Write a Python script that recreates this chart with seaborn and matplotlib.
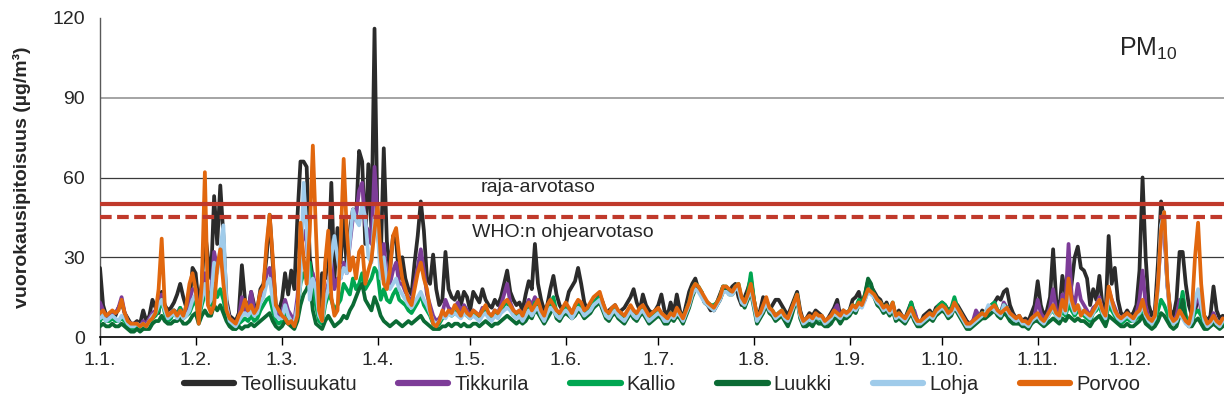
"""
plot.py
-------
PM10 daily means 2023 for six stations, redrawn with seaborn.
"""

import numpy as np
import pandas as pd
import matplotlib
matplotlib.use("Agg")
import matplotlib.pyplot as plt
import matplotlib.dates as mdates
from matplotlib.ticker import FuncFormatter
import seaborn as sns

# ─── Data (µg/m³, one value per day, one row per month) ──────────────────────
STATIONS = ["Teollisuukatu", "Tikkurila", "Kallio", "Luukki", "Lohja", "Porvoo"]
COLORS   = ["#2b2b2b", "#7d3c98", "#00a651", "#0b6b34", "#9fcbea", "#e1670e"]

TEOLLISUUKATU = [
    26, 12, 8, 7, 9, 8, 11, 13, 9, 7, 5, 5, 6, 5, 10, 6, 8, 14, 11, 9, 17, 12, 10, 11, 13, 16, 20, 15, 11, 13, 26,
    24, 12, 20, 40, 30, 22, 53, 35, 57, 38, 14, 8, 7, 6, 9, 27, 14, 10, 17, 12, 10, 18, 20, 30, 46, 28, 12, 10,
    14, 24, 16, 25, 18, 45, 66, 66, 64, 30, 22, 14, 10, 24, 22, 26, 58, 22, 41, 28, 45, 26, 40, 48, 44, 70, 66, 35, 65, 40, 116,
    40, 28, 71, 36, 25, 38, 36, 22, 30, 22, 18, 16, 28, 38, 51, 40, 22, 20, 31, 18, 12, 14, 32, 18, 15, 14, 17, 12, 17, 15,
    10, 17, 15, 13, 18, 14, 12, 11, 14, 12, 15, 20, 25, 17, 14, 12, 13, 10, 16, 21, 18, 35, 20, 14, 10, 12, 18, 23, 16, 12, 10,
    12, 17, 19, 21, 26, 20, 13, 10, 12, 11, 14, 16, 13, 9, 10, 11, 12, 9, 10, 11, 13, 15, 18, 13, 10, 16, 12, 10, 9, 10,
    12, 16, 10, 8, 13, 9, 16, 10, 7, 12, 17, 20, 22, 18, 17, 13, 12, 10, 11, 13, 16, 19, 18, 17, 19, 20, 15, 12, 15, 18, 22,
    14, 8, 10, 15, 12, 10, 12, 14, 14, 12, 10, 8, 11, 14, 17, 10, 6, 7, 9, 8, 10, 9, 8, 6, 7, 9, 11, 14, 8, 10, 9,
    10, 14, 15, 17, 12, 15, 21, 19, 17, 15, 14, 11, 13, 10, 12, 8, 10, 8, 7, 10, 13, 9, 6, 5, 8, 9, 10, 8, 11, 12,
    13, 12, 10, 11, 13, 12, 10, 8, 6, 5, 6, 8, 7, 10, 9, 11, 12, 13, 15, 14, 17, 18, 12, 9, 7, 8, 6, 7, 6, 9, 12,
    21, 12, 8, 10, 15, 33, 14, 10, 23, 16, 12, 20, 30, 34, 26, 25, 22, 12, 18, 14, 23, 12, 8, 38, 20, 26, 14, 9, 8, 10,
    8, 9, 12, 25, 60, 30, 12, 8, 10, 28, 51, 44, 20, 10, 8, 14, 32, 32, 20, 12, 8, 10, 14, 12, 8, 6, 8, 19, 10, 7, 8,
]

TIKKURILA = [
    13, 10, 8, 8, 9, 9, 11, 15, 9, 6, 5, 5, 5, 4, 6, 5, 7, 9, 10, 13, 16, 11, 8, 9, 10, 9, 11, 9, 10, 14, 18,
    18, 9, 16, 24, 14, 16, 32, 26, 30, 28, 12, 7, 6, 5, 7, 15, 10, 9, 17, 10, 9, 14, 16, 24, 26, 16, 9, 8,
    9, 14, 10, 8, 6, 15, 30, 40, 36, 20, 24, 18, 9, 8, 16, 20, 28, 18, 22, 22, 28, 24, 35, 45, 46, 55, 58, 42, 40, 35, 64,
    45, 26, 35, 22, 20, 25, 28, 20, 20, 17, 15, 13, 20, 26, 33, 25, 16, 12, 8, 6, 7, 9, 14, 11, 10, 11, 13, 9, 12, 10,
    8, 10, 9, 8, 11, 10, 8, 8, 10, 9, 12, 16, 20, 13, 10, 9, 10, 8, 11, 14, 12, 15, 13, 10, 8, 11, 13, 12, 10, 9, 10,
    11, 11, 9, 11, 13, 12, 9, 10, 11, 13, 14, 15, 12, 9, 8, 10, 11, 9, 8, 7, 9, 11, 10, 8, 10, 11, 9, 7, 8, 9,
    10, 9, 7, 7, 9, 8, 10, 9, 7, 10, 13, 17, 19, 18, 16, 14, 12, 11, 10, 12, 14, 18, 18, 17, 17, 19, 19, 14, 12, 15, 19,
    13, 7, 8, 11, 13, 10, 9, 7, 8, 9, 8, 6, 9, 12, 15, 8, 5, 6, 7, 6, 8, 7, 7, 5, 6, 8, 10, 12, 7, 9, 8,
    9, 12, 11, 13, 12, 14, 18, 17, 15, 13, 12, 10, 11, 9, 11, 7, 8, 7, 6, 8, 10, 10, 6, 5, 6, 8, 9, 8, 10, 11,
    12, 11, 9, 10, 12, 11, 9, 7, 5, 5, 6, 10, 8, 9, 8, 10, 11, 12, 10, 9, 13, 11, 9, 8, 7, 7, 6, 6, 5, 7, 8,
    14, 9, 7, 8, 11, 18, 10, 8, 16, 12, 35, 16, 12, 20, 14, 12, 10, 8, 11, 12, 15, 10, 8, 18, 14, 11, 8, 7, 8, 8,
    7, 7, 9, 14, 25, 12, 7, 6, 8, 20, 38, 42, 20, 8, 6, 8, 14, 13, 8, 6, 7, 12, 16, 10, 6, 5, 6, 9, 6, 5, 7,
]

KALLIO = [
    6, 8, 6, 6, 7, 6, 6, 7, 6, 4, 3, 3, 4, 3, 4, 4, 5, 7, 8, 10, 14, 9, 6, 7, 10, 8, 11, 7, 8, 9, 12,
    14, 7, 12, 16, 17, 12, 20, 15, 18, 14, 8, 5, 4, 3, 5, 6, 7, 6, 8, 6, 7, 10, 12, 14, 15, 10, 6, 5,
    6, 10, 7, 5, 4, 10, 20, 24, 22, 28, 18, 12, 6, 5, 12, 16, 14, 10, 12, 14, 20, 18, 16, 22, 18, 20, 24, 18, 20, 22, 26,
    24, 14, 18, 14, 13, 16, 18, 14, 13, 12, 10, 9, 11, 13, 16, 12, 10, 8, 5, 4, 5, 7, 8, 9, 8, 9, 10, 8, 9, 8,
    7, 9, 8, 7, 9, 10, 8, 7, 9, 8, 10, 12, 13, 11, 9, 8, 9, 7, 9, 11, 9, 13, 12, 9, 7, 10, 12, 15, 9, 8, 10,
    11, 10, 8, 10, 12, 11, 9, 10, 11, 13, 14, 15, 12, 9, 8, 10, 11, 9, 8, 7, 9, 11, 9, 8, 10, 11, 9, 7, 8, 9,
    10, 9, 7, 7, 9, 8, 10, 9, 7, 10, 13, 18, 20, 19, 17, 14, 13, 12, 12, 13, 15, 19, 19, 17, 17, 19, 20, 14, 13, 16, 24,
    14, 7, 9, 11, 14, 11, 10, 8, 9, 10, 8, 6, 9, 13, 16, 8, 5, 6, 7, 6, 8, 7, 6, 5, 6, 7, 9, 9, 7, 9, 9,
    10, 12, 11, 14, 13, 16, 21, 19, 16, 14, 13, 11, 12, 10, 13, 7, 9, 7, 6, 9, 13, 8, 5, 5, 6, 7, 9, 8, 10, 12,
    13, 12, 9, 11, 15, 11, 9, 6, 4, 4, 5, 7, 8, 9, 9, 11, 12, 13, 10, 9, 12, 11, 8, 7, 6, 7, 5, 5, 4, 6, 7,
    8, 6, 5, 7, 9, 10, 8, 7, 10, 8, 12, 10, 8, 10, 9, 8, 7, 6, 9, 10, 12, 8, 6, 12, 10, 8, 6, 5, 6, 7,
    6, 6, 7, 8, 11, 7, 5, 5, 6, 10, 14, 12, 9, 6, 5, 6, 10, 17, 8, 5, 6, 9, 10, 8, 5, 4, 5, 6, 5, 4, 5,
]

LUUKKI = [
    4, 5, 4, 4, 5, 4, 4, 5, 4, 3, 2, 2, 3, 2, 3, 3, 3, 5, 6, 6, 8, 6, 5, 5, 6, 6, 7, 5, 5, 6, 8,
    9, 5, 8, 10, 8, 8, 12, 10, 12, 9, 6, 4, 3, 3, 4, 3, 4, 4, 5, 4, 5, 6, 7, 8, 9, 6, 4, 3,
    4, 6, 5, 4, 3, 6, 12, 16, 18, 21, 10, 5, 4, 3, 6, 8, 6, 4, 5, 6, 8, 7, 10, 12, 15, 18, 20, 14, 12, 10, 15,
    12, 8, 6, 5, 4, 5, 6, 5, 4, 5, 6, 5, 6, 7, 8, 6, 5, 4, 3, 3, 3, 4, 4, 5, 4, 5, 5, 4, 5, 4,
    4, 5, 5, 4, 5, 6, 5, 4, 5, 5, 6, 7, 8, 7, 6, 5, 6, 5, 6, 8, 7, 10, 9, 7, 5, 7, 9, 11, 7, 6, 8,
    9, 8, 7, 8, 10, 9, 7, 8, 9, 11, 12, 13, 10, 7, 6, 8, 9, 7, 6, 5, 7, 9, 7, 6, 8, 9, 7, 5, 6, 7,
    8, 7, 5, 5, 7, 6, 8, 7, 5, 8, 11, 15, 18, 18, 16, 13, 12, 11, 10, 12, 14, 17, 18, 16, 16, 18, 19, 13, 11, 14, 17,
    11, 5, 7, 9, 12, 9, 8, 6, 7, 8, 6, 4, 7, 11, 14, 7, 4, 4, 5, 4, 6, 5, 5, 4, 4, 5, 7, 7, 5, 7, 7,
    8, 10, 9, 12, 12, 16, 22, 20, 15, 12, 11, 9, 10, 8, 10, 6, 7, 6, 5, 7, 9, 6, 4, 4, 5, 6, 7, 6, 8, 9,
    10, 9, 7, 8, 11, 9, 7, 5, 3, 3, 4, 5, 6, 7, 7, 8, 9, 10, 8, 7, 9, 8, 6, 5, 5, 5, 4, 4, 3, 5, 6,
    6, 5, 4, 5, 6, 7, 6, 5, 7, 6, 8, 7, 6, 7, 6, 6, 5, 4, 6, 7, 8, 6, 4, 8, 7, 6, 5, 4, 4, 5,
    4, 4, 5, 6, 8, 5, 4, 3, 4, 6, 9, 8, 6, 4, 3, 4, 8, 14, 6, 4, 4, 6, 7, 5, 3, 3, 4, 5, 4, 3, 4,
]

LOHJA = [
    7, 8, 6, 7, 8, 7, 6, 8, 7, 5, 4, 4, 5, 4, 5, 4, 6, 8, 9, 12, 14, 10, 7, 8, 9, 7, 9, 7, 8, 10, 14,
    16, 8, 14, 20, 12, 14, 28, 24, 33, 42, 12, 6, 5, 4, 6, 8, 9, 8, 10, 8, 9, 13, 15, 20, 22, 14, 8, 7,
    7, 12, 8, 6, 5, 12, 20, 58, 40, 14, 22, 18, 8, 6, 14, 18, 30, 38, 30, 22, 26, 24, 36, 48, 44, 42, 50, 45, 30, 28, 45,
    40, 22, 30, 20, 18, 20, 22, 18, 16, 14, 12, 11, 13, 15, 17, 14, 12, 9, 6, 5, 6, 8, 7, 9, 8, 9, 8, 7, 9, 8,
    7, 8, 7, 6, 8, 9, 7, 6, 8, 7, 9, 10, 11, 10, 8, 7, 8, 6, 8, 10, 8, 10, 11, 8, 6, 9, 11, 10, 8, 7, 9,
    10, 9, 7, 9, 11, 10, 8, 9, 10, 12, 13, 14, 11, 8, 7, 9, 10, 8, 7, 6, 8, 10, 8, 7, 9, 10, 8, 6, 7, 8,
    9, 8, 6, 6, 8, 7, 9, 8, 6, 9, 12, 16, 18, 17, 15, 13, 12, 11, 10, 12, 14, 17, 17, 16, 16, 18, 18, 13, 12, 15, 18,
    12, 6, 8, 10, 13, 10, 9, 7, 8, 9, 7, 6, 9, 12, 14, 8, 5, 6, 7, 6, 8, 7, 7, 5, 6, 7, 9, 8, 7, 9, 8,
    9, 11, 10, 12, 11, 14, 17, 16, 15, 13, 12, 10, 11, 9, 11, 7, 8, 7, 6, 8, 10, 7, 5, 5, 6, 7, 8, 7, 9, 10,
    11, 10, 8, 9, 11, 10, 8, 6, 4, 4, 5, 6, 7, 8, 9, 12, 11, 10, 9, 8, 12, 10, 8, 7, 6, 7, 5, 5, 4, 6, 7,
    8, 6, 5, 7, 9, 11, 8, 7, 12, 9, 16, 12, 9, 12, 10, 9, 8, 7, 9, 11, 14, 9, 7, 15, 12, 9, 7, 6, 7, 8,
    7, 6, 8, 9, 12, 8, 6, 5, 7, 18, 42, 47, 20, 7, 5, 6, 9, 7, 5, 4, 6, 14, 18, 12, 6, 4, 5, 7, 5, 4, 6,
]

PORVOO = [
    9, 10, 8, 9, 10, 9, 10, 14, 9, 6, 5, 5, 5, 4, 5, 4, 6, 7, 9, 18, 37, 12, 8, 9, 10, 8, 10, 8, 12, 20, 24,
    18, 5, 20, 62, 12, 9, 12, 26, 33, 20, 10, 7, 6, 5, 8, 10, 14, 10, 12, 9, 11, 17, 19, 35, 46, 30, 12, 10,
    8, 7, 5, 6, 4, 8, 43, 30, 20, 40, 72, 40, 10, 6, 28, 40, 15, 8, 10, 35, 67, 40, 25, 30, 22, 32, 34, 20, 25, 29, 40,
    50, 30, 20, 18, 25, 38, 41, 30, 22, 18, 14, 12, 18, 24, 28, 22, 18, 10, 5, 4, 6, 10, 8, 10, 9, 12, 10, 8, 11, 9,
    8, 10, 9, 8, 10, 12, 9, 8, 10, 9, 11, 13, 14, 12, 10, 9, 10, 8, 11, 13, 10, 12, 14, 10, 8, 12, 14, 12, 10, 9, 11,
    13, 11, 9, 12, 14, 13, 10, 11, 13, 15, 16, 17, 13, 10, 9, 11, 12, 10, 9, 8, 10, 12, 10, 9, 11, 12, 10, 8, 9, 10,
    11, 9, 8, 7, 9, 8, 11, 9, 7, 10, 13, 18, 20, 19, 17, 15, 13, 12, 11, 13, 15, 19, 19, 18, 17, 19, 20, 15, 13, 16, 20,
    14, 8, 9, 12, 15, 11, 10, 8, 9, 10, 8, 7, 10, 13, 16, 9, 6, 7, 8, 7, 9, 8, 8, 6, 7, 8, 10, 9, 8, 10, 9,
    10, 12, 11, 13, 12, 15, 18, 17, 16, 14, 13, 11, 12, 10, 13, 8, 9, 8, 7, 9, 11, 8, 6, 6, 7, 8, 9, 8, 10, 11,
    12, 11, 9, 10, 13, 11, 9, 7, 5, 5, 6, 7, 8, 9, 8, 10, 11, 12, 10, 9, 10, 11, 9, 8, 7, 8, 6, 6, 5, 7, 8,
    9, 7, 6, 8, 10, 12, 9, 8, 14, 10, 22, 14, 10, 12, 8, 10, 9, 8, 10, 12, 14, 10, 8, 19, 14, 10, 8, 7, 8, 9,
    8, 7, 9, 10, 14, 9, 7, 6, 8, 20, 40, 47, 22, 8, 6, 7, 10, 8, 6, 5, 10, 30, 43, 20, 8, 5, 6, 8, 6, 5, 7,
]

SERIES = [TEOLLISUUKATU, TIKKURILA, KALLIO, LUUKKI, LOHJA, PORVOO]

LIMIT_VALUE = 50      # raja-arvotaso
WHO_GUIDE   = 45      # WHO:n ohjearvotaso
Y_TICKS     = [0, 30, 60, 90, 120]


def build_frame():
    dates = pd.date_range("2023-01-01", periods=365, freq="D")
    frames = []
    for name, vals in zip(STATIONS, SERIES):
        assert len(vals) == 365, (name, len(vals))
        frames.append(pd.DataFrame({"pvm": dates, "pitoisuus": vals, "asema": name}))
    return pd.concat(frames, ignore_index=True), dates


def main():
    df, dates = build_frame()

    sns.set_style("white")
    plt.rcParams["font.family"] = ["Liberation Sans", "DejaVu Sans"]
    plt.rcParams["mathtext.fontset"] = "custom"
    plt.rcParams["mathtext.rm"] = "Liberation Sans"

    fig = plt.figure(figsize=(12.24, 4.16), dpi=100)
    ax = fig.add_axes([100 / 1224, 79 / 416, 1124 / 1224, 319 / 416])

    # gridlines (90 is lighter in the original)
    ax.axhline(30, color="#3a3a3a", lw=0.9, zorder=1)
    ax.axhline(60, color="#3a3a3a", lw=0.9, zorder=1)
    ax.axhline(90, color="#8c8c8c", lw=1.1, zorder=1)

    sns.lineplot(data=df, x="pvm", y="pitoisuus", hue="asema",
                 hue_order=STATIONS, palette=COLORS, estimator=None,
                 linewidth=2.7, ax=ax, zorder=3)

    # limit lines
    ax.axhline(LIMIT_VALUE, color="#c0392b", lw=3.0, zorder=5)
    ax.axhline(WHO_GUIDE, color="#c0392b", lw=3.0, zorder=5,
               dashes=(2.8, 1.3))

    ax.text(mdates.date2num(pd.Timestamp("2023-05-23")), 56.3, "raja-arvotaso",
            ha="center", va="center", fontsize=14)
    ax.text(mdates.date2num(pd.Timestamp("2023-05-31")), 39.4, "WHO:n ohjearvotaso",
            ha="center", va="center", fontsize=14)
    ax.text(mdates.date2num(pd.Timestamp("2023-12-07")), 108.5,
            r"PM$_{\mathregular{10}}$", ha="center", va="center", fontsize=18)

    # axes
    x0 = mdates.date2num(dates[0])
    ax.set_xlim(x0, x0 + 364.4)
    ax.set_ylim(0, 120)
    ax.set_yticks(Y_TICKS)
    ax.xaxis.set_major_locator(mdates.MonthLocator())
    ax.xaxis.set_major_formatter(
        FuncFormatter(lambda v, pos: f"1.{mdates.num2date(v).month}."))

    ax.tick_params(axis="x", bottom=True, direction="out", length=6, width=1,
                   color="black", labelsize=14, pad=5)
    ax.tick_params(axis="y", left=False, length=0, labelsize=14, pad=11)

    for side in ["top", "right"]:
        ax.spines[side].set_visible(False)
    ax.spines["left"].set_color("#595959")
    ax.spines["left"].set_linewidth(1.0)
    ax.spines["bottom"].set_color("black")
    ax.spines["bottom"].set_linewidth(1.2)

    ax.set_xlabel("")
    ax.set_ylabel("vuorokausipitoisuus (µg/m³)", fontsize=14,
                  fontweight="bold", labelpad=15)

    # legend
    handles, labels = ax.get_legend_handles_labels()
    leg = ax.legend(handles, labels, ncol=6, loc="center",
                    bbox_to_anchor=(0.5, -0.15), frameon=False,
                    fontsize=14.5, handlelength=2.5, handletextpad=0.3,
                    columnspacing=2.05)
    for line in leg.get_lines():
        line.set_linewidth(4.5)

    fig.savefig("out.png", dpi=100)
    plt.close(fig)


if __name__ == "__main__":
    main()
